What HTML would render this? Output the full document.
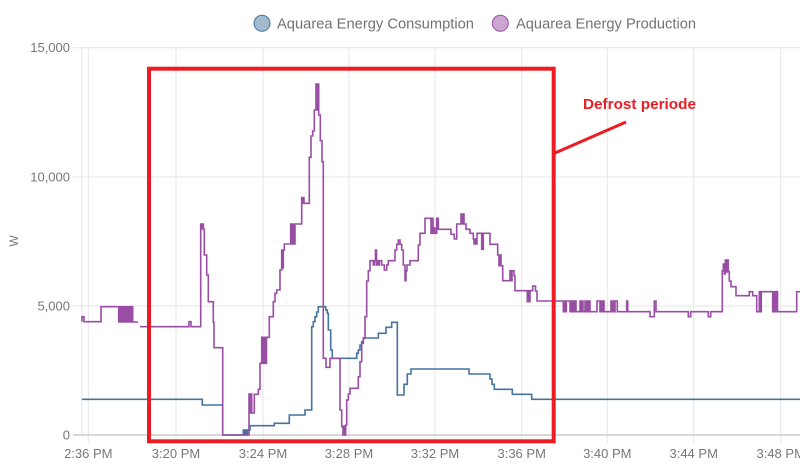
<!DOCTYPE html>
<html>
<head>
<meta charset="utf-8">
<style>
html,body{margin:0;padding:0;background:#fff;}
svg{display:block;}
text{font-family:"Liberation Sans",Arial,sans-serif;}
</style>
</head>
<body>
<svg width="800" height="472" viewBox="0 0 800 472" xmlns="http://www.w3.org/2000/svg">
<rect x="0" y="0" width="800" height="472" fill="#ffffff"/>

<!-- legend -->
<circle cx="262" cy="23.3" r="8" fill="#a2b9cf" stroke="#44739e" stroke-width="1"/>
<text x="277" y="28.3" font-size="15" fill="#727272" textLength="197" lengthAdjust="spacingAndGlyphs">Aquarea Energy Consumption</text>
<circle cx="500.3" cy="23.3" r="8" fill="#cba6d1" stroke="#984ea3" stroke-width="1"/>
<text x="516" y="28.3" font-size="15" fill="#727272" textLength="180" lengthAdjust="spacingAndGlyphs">Aquarea Energy Production</text>

<!-- horizontal grid -->
<g stroke="#e6e6e6" stroke-width="1">
<line x1="73" y1="47.7" x2="800" y2="47.7"/>
<line x1="73" y1="177" x2="800" y2="177"/>
<line x1="73" y1="306" x2="800" y2="306"/>
</g>
<!-- vertical grid -->
<g stroke="#e6e6e6" stroke-width="1">
<line x1="81.7" y1="47.7" x2="81.7" y2="435"/>
<line x1="88.3" y1="47.7" x2="88.3" y2="443"/>
<line x1="176" y1="47.7" x2="176" y2="443"/>
<line x1="263" y1="47.7" x2="263" y2="443"/>
<line x1="349" y1="47.7" x2="349" y2="443"/>
<line x1="435" y1="47.7" x2="435" y2="443"/>
<line x1="521.7" y1="47.7" x2="521.7" y2="443"/>
<line x1="607.3" y1="47.7" x2="607.3" y2="443"/>
<line x1="693.7" y1="47.7" x2="693.7" y2="443"/>
<line x1="780.7" y1="47.7" x2="780.7" y2="443"/>
</g>
<line x1="73" y1="435" x2="800" y2="435" stroke="#d8d8d8" stroke-width="2"/>

<!-- y labels -->
<g font-size="13" fill="#777" text-anchor="end">
<text x="70" y="52">15,000</text>
<text x="70" y="181.5">10,000</text>
<text x="70" y="310.5">5,000</text>
<text x="70" y="439.5">0</text>
</g>
<text x="0" y="0" font-size="12" fill="#777" text-anchor="middle" transform="translate(18,241) rotate(-90)">W</text>

<!-- x labels -->
<g font-size="13" fill="#777" text-anchor="middle">
<text x="88.3" y="458">2:36 PM</text>
<text x="176" y="458">3:20 PM</text>
<text x="263" y="458">3:24 PM</text>
<text x="349" y="458">3:28 PM</text>
<text x="435" y="458">3:32 PM</text>
<text x="521.7" y="458">3:36 PM</text>
<text x="607.3" y="458">3:40 PM</text>
<text x="693.7" y="458">3:44 PM</text>
<text x="780.7" y="458">3:48 PM</text>
</g>

<!-- consumption (blue) -->
<path fill="none" stroke="#44739e" stroke-width="1.6" stroke-linejoin="miter" d="M82,399.3 H202.3 V405 H222.7 V435 H243.3 V430 H244.5 V435 H245.5 V430 H246.5 V435 H247.5 V430 H250 V425.7 H274.3 V423.3 H289.3 V415 H305 V410 H311.7 V326.7 H313.3 V321.7 H315 V316.7 H316.7 V312 H318.3 V306.7 H325.7 V310 H327.3 V313.3 H328.3 V330 H330.7 V350 H332.3 V358.3 H356.7 V353.3 H358.3 V350 H360 V345 H361.7 V341.7 H363.3 V338 H378.3 V333.3 H386 V327.3 H391.7 V322.3 H397.3 V395 H404 V384.3 H407.3 V374 H411 V369 H469 V374 H490 V379 H492 V384.3 H494.3 V389.3 H512.3 V394.3 H531.7 V399.3 H800"/>

<!-- production (purple) -->
<path fill="none" stroke="#984ea3" stroke-width="1.6" stroke-linejoin="miter" d="M82,321.7 V316.7 H84 V321.7 H101 V306.7 H118.7 V322 H119.7 V306.7 H120.7 V322 H121.7 V306.7 H122.7 V322 H123.7 V306.7 H124.7 V322 H125.7 V306.7 H126.7 V322 H127.7 V306.7 H128.7 V322 H129.7 V306.7 H130.7 V322 H131.7 V306.7 H132.7 V322 H138.3"/>
<path fill="none" stroke="#984ea3" stroke-width="1.6" stroke-linejoin="miter" d="M140,326.7 H189 V321.7 H191 V326.7 H200.7 V224 H201.5 V229 H202.3 V224 H203.3 V229 H204.3 V255 H206.7 V275 H208.3 V301.7 H213.3 V322.3 H214 V347.7 H222.7 V435 H249 V394 H249.7 V413 H250.4 V394 H251.7 V413 H254.3 V394.3 H258.3 V389.3 H260 V363.3 H261.7 V337.3 H263.3 V363.3 H264.5 V337.3 H265.5 V363.3 H266.5 V337.3 H269.3 V316.7 H273.3 V301.7 H275 V293.3 H276.7 V290 H280 V270 H281.7 V250 H282.5 V268 H283.3 V250 H284.3 V244 H290.7 V224 H291.7 V244 H292.7 V224 H293.7 V244 H295 V224 H301.7 V197.7 H302.5 V203.3 H303.3 V197.7 H304 V203.3 H309.3 V157.3 H311 V136 H312.7 V131 H314.3 V110 H316 V84 H316.8 V110 H317.6 V84 H318.7 V115 H320.3 V140.7 H322 V161.7 H323.3 V358.3 H326 V367.3 H330 V358.3 H340 V410 H341.7 V426.7 H343 V435 H343.7 V426 H344.4 V435 H345.7 V425 H346.7 V400 H348.3 V394 H350 V388.3 H358.3 V376.7 H360 V361.7 H361.7 V343.3 H363.3 V338.3 H365 V316.7 H366.7 V281 H368.3 V270.7 H370 V260.7 H373.3 V265 H374.5 V260.7 H375.5 V250 H376.5 V265 H377.5 V260.7 H378.5 V265 H379.5 V260.7 H381.7 V265 H384.3 V270 H386.7 V265 H388.3 V260.7 H395 V250 H396.7 V244.3 H398.3 V240 H400 V244.3 H401.7 V250 H403.3 V265 H405 V280.7 H406 V270.7 H407 V265 H410 V260.7 H418.3 V245 H420 V233.3 H425 V218.3 H431 V233.3 H432 V218.3 H433 V233.3 H434 V228 H435 V233.3 H436.7 V218.3 H438.3 V229.3 H451 V234.3 H454.3 V239 H456.7 V224 H461 V214 H462 V224 H463 V214 H464 V224 H466 V229.3 H470 V233.3 H473.3 V239 H474 V244 H475 V239 H476 V244 H477 V233.3 H481.7 V249.3 H483.3 V233.3 H490 V244.3 H497.7 V255 H499 V265.7 H500 V255 H501 V265.7 H502.7 V280.7 H510 V270.7 H511 V280.7 H512 V270.7 H514 V275.7 H515 V290.7 H527.3 V301.7 H528 V290.7 H529 V301.7 H530 V290.7 H532.7 V286 H535.5 V291 H537 V301 H563.3 V311.7 H564.3 V301 H565.3 V311.7 H566.3 V301 H570 V311.7 H571 V301 H572 V311.7 H573 V301 H574 V311.7 H575 V301 H576 V311.7 H580 V301 H581 V311.7 H582 V301 H583 V311.7 H585 V301 H586 V311.7 H587 V301 H588 V311.7 H589 V301 H590 V311.7 H597 V301 H600 V311.7 H601 V301 H602 V311.7 H603 V301 H604 V311.7 H611 V301 H612 V311.7 H613 V301 H614 V311.7 H615 V301 H617.3 V311.7 H626.7 V301 H627.7 V311.7 H650 V316.7 H654.3 V301 H656 V311.7 H688.3 V316.7 H690.7 V311.7 H708.3 V316.7 H710.7 V311.7 H722.3 V270.7 H723.3 V264 H724.3 V274 H725.3 V260 H726.3 V272 H727.3 V260 H728.3 V271.7 H729.3 V281 H731 V286.7 H736 V295.7 H749.3 V291.7 H752.7 V295.7 H756.7 V311.7 H759.3 V291.7 H760.3 V311.7 H761.3 V291.7 H772.7 V311.7 H773.7 V291.7 H775 V311.7 H776.3 V291.7 H777.5 V311.7 H796.7 V291.7 H800"/>

<!-- annotation -->
<rect x="149" y="68.7" width="404.7" height="372.6" fill="none" stroke="#ec1c24" stroke-width="4"/>
<line x1="555" y1="153" x2="626" y2="122" stroke="#ec1c24" stroke-width="3"/>
<text x="583" y="109" font-size="15" font-weight="bold" fill="#ec1c24" textLength="113" lengthAdjust="spacingAndGlyphs">Defrost periode</text>
</svg>
</body>
</html>
